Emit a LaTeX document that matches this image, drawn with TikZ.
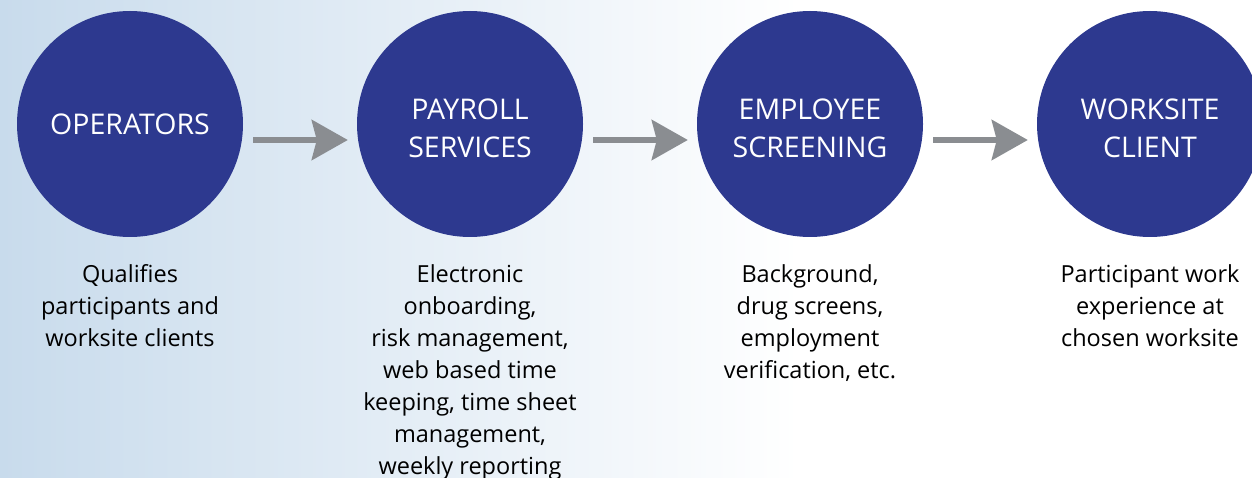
\documentclass[tikz,border=0pt]{standalone}
\usepackage{fontspec}
\setmainfont{Open Sans}
\usetikzlibrary{arrows.meta}
\definecolor{circblue}{RGB}{45,57,143}
\definecolor{arrgray}{RGB}{138,141,145}
\definecolor{bgblue}{RGB}{200,219,236}
\begin{document}
\begin{tikzpicture}[x=1pt,y=1pt,
  stage/.style={circle,fill=circblue,minimum size=226pt,inner sep=0pt},
  stagetext/.style={text=white,font=\fontsize{28.5}{38}\selectfont,align=center,yshift=-4pt},
  desc/.style={anchor=north,align=center,text=black,font=\fontsize{23.5}{32}\selectfont},
  flow/.style={draw=arrgray,line width=6pt,-{Stealth[length=36pt,width=40pt,inset=5pt]},
    shorten <=10pt,shorten >=9pt}]
\useasboundingbox (0,0) rectangle (1252,-478);
\shade[left color=bgblue,right color=white] (0,0) rectangle (800,-478);
\node[stage,label={[stagetext,yshift=4pt]center:OPERATORS}] (c1) at (130,-124) {};
\node[stage,label={[stagetext]center:PAYROLL\\SERVICES}] (c2) at (470,-124) {};
\node[stage,label={[stagetext]center:EMPLOYEE\\SCREENING}] (c3) at (810,-124) {};
\node[stage,label={[stagetext]center:WORKSITE\\CLIENT}] (c4) at (1150,-124) {};
\draw[flow] ([yshift=-16pt]c1.east) -- ([yshift=-16pt]c2.west);
\draw[flow] ([yshift=-16pt]c2.east) -- ([yshift=-16pt]c3.west);
\draw[flow] ([yshift=-16pt]c3.east) -- ([yshift=-16pt]c4.west);
\node[desc] (t1) at (130,-261) {Qualifies\\participants and\\worksite clients};
\node[desc] (t2) at (470,-261) {Electronic\\onboarding,\\risk management,\\web based time\\keeping, time sheet\\management,\\weekly reporting};
\node[desc] (t3) at (810,-261) {Background,\\drug screens,\\employment\\verification, etc.};
\node[desc] (t4) at (1150,-261) {Participant work\\experience at\\chosen worksite};
\end{tikzpicture}
\end{document}
